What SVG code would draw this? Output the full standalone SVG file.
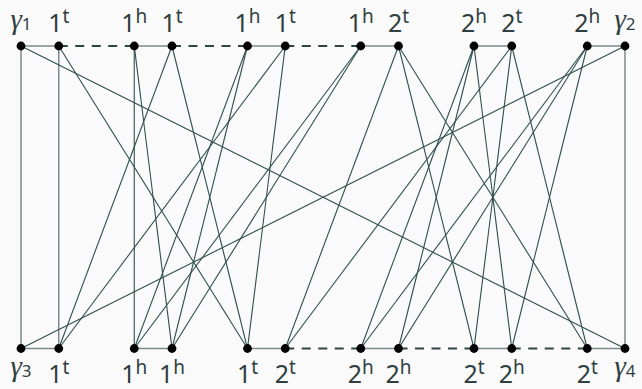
<svg xmlns="http://www.w3.org/2000/svg" width="642" height="389" viewBox="0 0 642 389">
<style>
.e{stroke:#2f4f4f;stroke-width:1.1;fill:none}
.s{stroke:#7b8b8b;stroke-width:1.5;fill:none}
.d{stroke:#2f4444;stroke-width:2.2;stroke-dasharray:9 7.5;fill:none}
.n{fill:#000}
.l{font-family:"Noto Sans","DejaVu Sans",sans-serif;font-size:25px;fill:#2f3f40;text-anchor:middle}
.sup{font-size:19px}
.g{font-family:"Liberation Serif",serif;font-style:italic;font-size:29px}
.sub{font-size:17px}
</style>
<rect width="642" height="389" fill="#fafafa"/>
<g id="connectors">
<line class="s" x1="21" y1="46" x2="21" y2="348.5"/>
<line class="s" x1="58.75" y1="46" x2="58.75" y2="348.5"/>
<line class="s" x1="625" y1="46" x2="625" y2="348.5"/>
<line class="s" x1="21" y1="46" x2="58.75" y2="46"/>
<line class="s" x1="134.25" y1="46" x2="172" y2="46"/>
<line class="s" x1="247.5" y1="46" x2="285.25" y2="46"/>
<line class="s" x1="360.75" y1="46" x2="398.5" y2="46"/>
<line class="s" x1="474" y1="46" x2="511.75" y2="46"/>
<line class="s" x1="587.25" y1="46" x2="625" y2="46"/>
<line class="s" x1="21" y1="348.5" x2="58.75" y2="348.5"/>
<line class="s" x1="134.25" y1="348.5" x2="172" y2="348.5"/>
<line class="s" x1="247.5" y1="348.5" x2="285.25" y2="348.5"/>
<line class="s" x1="360.75" y1="348.5" x2="398.5" y2="348.5"/>
<line class="s" x1="474" y1="348.5" x2="511.75" y2="348.5"/>
<line class="s" x1="587.25" y1="348.5" x2="625" y2="348.5"/>
<line class="d" x1="58.75" y1="46" x2="134.25" y2="46"/>
<line class="d" x1="172" y1="46" x2="247.5" y2="46"/>
<line class="d" x1="285.25" y1="46" x2="360.75" y2="46"/>
<line class="d" x1="285.25" y1="348.5" x2="360.75" y2="348.5"/>
<line class="d" x1="398.5" y1="348.5" x2="474" y2="348.5"/>
<line class="d" x1="511.75" y1="348.5" x2="587.25" y2="348.5"/>
<line class="e" x1="21" y1="46" x2="625" y2="348.5"/>
<line class="e" x1="625" y1="46" x2="21" y2="348.5"/>
<line class="e" x1="58.75" y1="46" x2="247.5" y2="348.5"/>
<line class="e" x1="134.25" y1="46" x2="134.25" y2="348.5"/>
<line class="e" x1="134.25" y1="46" x2="172" y2="348.5"/>
<line class="e" x1="172" y1="46" x2="58.75" y2="348.5"/>
<line class="e" x1="172" y1="46" x2="247.5" y2="348.5"/>
<line class="e" x1="247.5" y1="46" x2="134.25" y2="348.5"/>
<line class="e" x1="247.5" y1="46" x2="172" y2="348.5"/>
<line class="e" x1="285.25" y1="46" x2="58.75" y2="348.5"/>
<line class="e" x1="285.25" y1="46" x2="247.5" y2="348.5"/>
<line class="e" x1="360.75" y1="46" x2="134.25" y2="348.5"/>
<line class="e" x1="360.75" y1="46" x2="172" y2="348.5"/>
<line class="e" x1="398.5" y1="46" x2="285.25" y2="348.5"/>
<line class="e" x1="398.5" y1="46" x2="474" y2="348.5"/>
<line class="e" x1="398.5" y1="46" x2="587.25" y2="348.5"/>
<line class="e" x1="474" y1="46" x2="360.75" y2="348.5"/>
<line class="e" x1="474" y1="46" x2="398.5" y2="348.5"/>
<line class="e" x1="474" y1="46" x2="511.75" y2="348.5"/>
<line class="e" x1="511.75" y1="46" x2="285.25" y2="348.5"/>
<line class="e" x1="511.75" y1="46" x2="474" y2="348.5"/>
<line class="e" x1="511.75" y1="46" x2="587.25" y2="348.5"/>
<line class="e" x1="587.25" y1="46" x2="360.75" y2="348.5"/>
<line class="e" x1="587.25" y1="46" x2="398.5" y2="348.5"/>
<line class="e" x1="587.25" y1="46" x2="511.75" y2="348.5"/>
</g>
<g id="t0"><circle class="n" cx="21" cy="46" r="4.4"/><text class="l" x="21" y="29"><tspan class="g">γ</tspan><tspan class="sub" dy="1">1</tspan></text></g>
<g id="t1"><circle class="n" cx="58.75" cy="46" r="4.4"/><text class="l" x="58.75" y="32">1<tspan class="sup" dy="-9">t</tspan></text></g>
<g id="t2"><circle class="n" cx="134.25" cy="46" r="4.4"/><text class="l" x="134.25" y="32">1<tspan class="sup" dy="-9">h</tspan></text></g>
<g id="t3"><circle class="n" cx="172" cy="46" r="4.4"/><text class="l" x="172" y="32">1<tspan class="sup" dy="-9">t</tspan></text></g>
<g id="t4"><circle class="n" cx="247.5" cy="46" r="4.4"/><text class="l" x="247.5" y="32">1<tspan class="sup" dy="-9">h</tspan></text></g>
<g id="t5"><circle class="n" cx="285.25" cy="46" r="4.4"/><text class="l" x="285.25" y="32">1<tspan class="sup" dy="-9">t</tspan></text></g>
<g id="t6"><circle class="n" cx="360.75" cy="46" r="4.4"/><text class="l" x="360.75" y="32">1<tspan class="sup" dy="-9">h</tspan></text></g>
<g id="t7"><circle class="n" cx="398.5" cy="46" r="4.4"/><text class="l" x="398.5" y="32">2<tspan class="sup" dy="-9">t</tspan></text></g>
<g id="t8"><circle class="n" cx="474" cy="46" r="4.4"/><text class="l" x="474" y="32">2<tspan class="sup" dy="-9">h</tspan></text></g>
<g id="t9"><circle class="n" cx="511.75" cy="46" r="4.4"/><text class="l" x="511.75" y="32">2<tspan class="sup" dy="-9">t</tspan></text></g>
<g id="t10"><circle class="n" cx="587.25" cy="46" r="4.4"/><text class="l" x="587.25" y="32">2<tspan class="sup" dy="-9">h</tspan></text></g>
<g id="t11"><circle class="n" cx="625" cy="46" r="4.4"/><text class="l" x="625" y="29"><tspan class="g">γ</tspan><tspan class="sub" dy="1">2</tspan></text></g>
<g id="b0"><circle class="n" cx="21" cy="348.5" r="4.4"/><text class="l" x="21" y="376"><tspan class="g">γ</tspan><tspan class="sub" dy="1">3</tspan></text></g>
<g id="b1"><circle class="n" cx="58.75" cy="348.5" r="4.4"/><text class="l" x="58.75" y="383">1<tspan class="sup" dy="-9">t</tspan></text></g>
<g id="b2"><circle class="n" cx="134.25" cy="348.5" r="4.4"/><text class="l" x="134.25" y="383">1<tspan class="sup" dy="-9">h</tspan></text></g>
<g id="b3"><circle class="n" cx="172" cy="348.5" r="4.4"/><text class="l" x="172" y="383">1<tspan class="sup" dy="-9">h</tspan></text></g>
<g id="b4"><circle class="n" cx="247.5" cy="348.5" r="4.4"/><text class="l" x="247.5" y="383">1<tspan class="sup" dy="-9">t</tspan></text></g>
<g id="b5"><circle class="n" cx="285.25" cy="348.5" r="4.4"/><text class="l" x="285.25" y="383">2<tspan class="sup" dy="-9">t</tspan></text></g>
<g id="b6"><circle class="n" cx="360.75" cy="348.5" r="4.4"/><text class="l" x="360.75" y="383">2<tspan class="sup" dy="-9">h</tspan></text></g>
<g id="b7"><circle class="n" cx="398.5" cy="348.5" r="4.4"/><text class="l" x="398.5" y="383">2<tspan class="sup" dy="-9">h</tspan></text></g>
<g id="b8"><circle class="n" cx="474" cy="348.5" r="4.4"/><text class="l" x="474" y="383">2<tspan class="sup" dy="-9">t</tspan></text></g>
<g id="b9"><circle class="n" cx="511.75" cy="348.5" r="4.4"/><text class="l" x="511.75" y="383">2<tspan class="sup" dy="-9">h</tspan></text></g>
<g id="b10"><circle class="n" cx="587.25" cy="348.5" r="4.4"/><text class="l" x="587.25" y="383">2<tspan class="sup" dy="-9">t</tspan></text></g>
<g id="b11"><circle class="n" cx="625" cy="348.5" r="4.4"/><text class="l" x="625" y="376"><tspan class="g">γ</tspan><tspan class="sub" dy="1">4</tspan></text></g>
</svg>
